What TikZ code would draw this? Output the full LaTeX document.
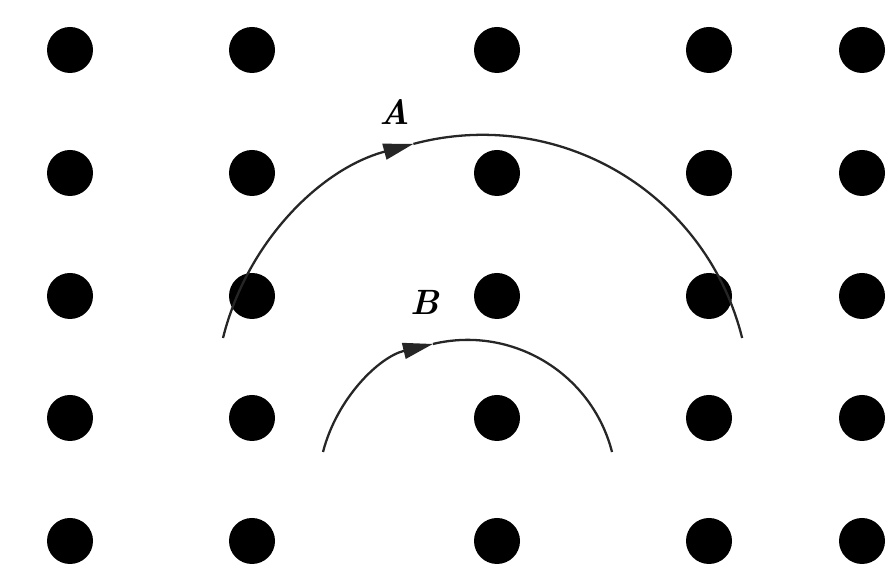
\documentclass[tikz,border=0pt]{standalone}
\usepackage{amsmath,amssymb}
\usepackage{tikz}
\usetikzlibrary{arrows.meta,calc,positioning}
\tikzset{
  lattice dot/.style={circle,fill=black,minimum size=9.2mm,inner sep=0pt},
  orbit line/.style={draw=black!85,line width=1.3pt},
  orbit arrow/.style={orbit line,-{Triangle[length=6mm,width=3.2mm]}},
  orbit label/.style={font=\fontsize{20}{24}\selectfont\bfseries\itshape,
    inner sep=0pt}
}

\begin{document}
\begin{tikzpicture}[x=0.2mm,y=0.2mm]
  \useasboundingbox (0,0) rectangle (886,577);
  \foreach \col/\xpos in {1/70,2/252,3/497,4/709,5/862}
    \foreach \row/\ypos in {1/527,2/404,3/281,4/159,5/36}
      \node[lattice dot] (dot\col\row) at (\xpos,\ypos) {};
  \coordinate (orbitA) at (223,239);
  \coordinate (orbitB) at (323,125);
  \draw[orbit arrow] (orbitA)
    arc[start angle=166.1,end angle=105,radius=5.348cm] coordinate (tipA);
  \draw[orbit line] (tipA)
    arc[start angle=105,end angle=13.9,radius=5.348cm];
  \draw[orbit arrow] (orbitB)
    arc[start angle=165.6,end angle=103.4,radius=2.984cm] coordinate (tipB);
  \draw[orbit line] (tipB)
    arc[start angle=103.4,end angle=14.4,radius=2.984cm];
  \node[orbit label] (labelA) at (395,465) {A};
  \node[orbit label] (labelB) at (425,275) {B};
\end{tikzpicture}
\end{document}
